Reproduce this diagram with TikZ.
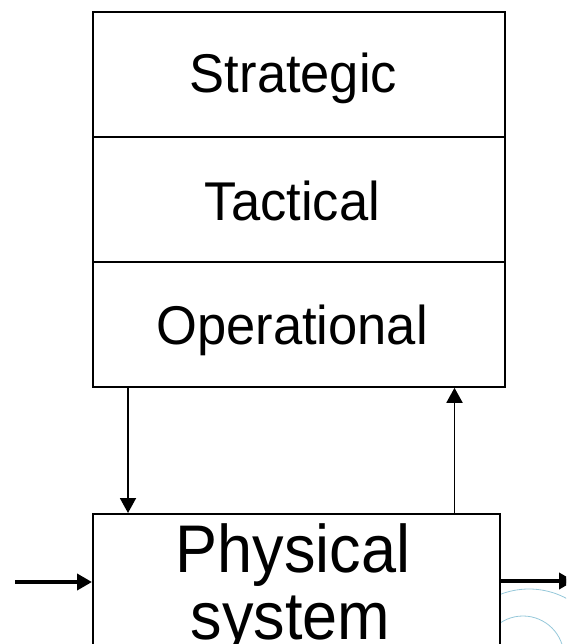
\documentclass[tikz,border=0pt]{standalone}
\usepackage{fontspec}
\setmainfont{Liberation Sans}
\usetikzlibrary{arrows.meta}
\definecolor{haloblue}{RGB}{150,200,218}
\newcommand{\tallish}[2]{\scalebox{1}[#1]{#2}}
\begin{document}
\begin{tikzpicture}[x=1pt,y=-1pt,
  layer/.style={draw,line width=1.8pt,minimum width=412pt,minimum height=125pt,
    inner sep=0pt,anchor=north west},
  plant/.style={draw,fill=white,line width=1.8pt,minimum width=407pt,minimum height=160pt,
    inner sep=0pt,anchor=north west},
  lbl/.style={anchor=base,inner sep=0pt,font=\fontsize{52.5}{60}\selectfont},
  biglbl/.style={anchor=base,inner sep=0pt,font=\fontsize{63}{66}\selectfont},
  link/.style={line width=1.9pt,-{Triangle[length=15pt,width=16pt]}},
  flow/.style={line width=4.4pt,-{Triangle[length=15pt,width=16pt]}},
  halo/.style={draw=haloblue,line width=0.8pt}]
\useasboundingbox (0,0) rectangle (566,644);
\clip (0,0) rectangle (566,644);

% faint rings behind the plant box
\begin{scope}
  \clip (500,560) rectangle (566,644);
  \draw[halo] (529,668) circle (79pt);
  \draw[halo] (523,657) circle (41pt);
\end{scope}

% decision hierarchy
\node[layer] (strat) at (92,11) {};
\node[layer] (tact)  at (92,136) {};
\node[layer] (oper)  at (92,261) {};
\node[lbl] (tstrat) at (293.5,93) {\tallish{1.04}{Strategic}};
\node[lbl] (ttact)  at (292.5,220) {\tallish{1.04}{Tactical}};
\node[lbl] (toper)  at (292,344) {\tallish{1.04}{Operational}};

% controlled plant
\node[plant] (phys) at (92,513) {};
\node[biglbl] (tphys) at (293,572) {\tallish{1.07}{Physical}};
\node[biglbl] (tsys)  at (290.5,639) {\tallish{1.07}{system}};

% control and feedback
\coordinate (dnx) at (128,0);
\coordinate (upx) at (454.5,0);
\draw[link] (oper.south -| dnx) -- (phys.north -| dnx);
\draw[link] (phys.north -| upx) -- (oper.south -| upx);

% material flow through the plant
\coordinate (src) at (15,582);
\coordinate (sink) at (574,581);
\draw[flow] (src) -- (phys.west |- src);
\draw[flow] (phys.east |- sink) -- (sink);
\end{tikzpicture}
\end{document}
